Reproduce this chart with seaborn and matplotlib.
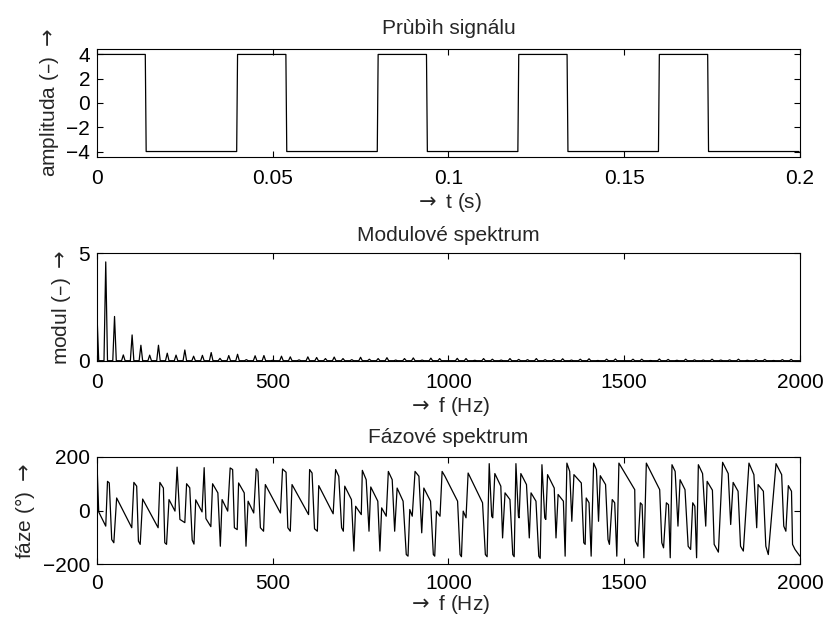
import numpy as np
import pandas as pd
import seaborn as sns
import matplotlib.pyplot as plt

# ---- data ----
# square wave: vertices of the sampled signal (fs = 4 kHz)
signal_t = [0, 0.01375, 0.014, 0.03975, 0.04, 0.05375, 0.054, 0.07975, 0.08, 0.09375,
            0.094, 0.11975, 0.12, 0.13375, 0.134, 0.15975, 0.16, 0.17375, 0.174, 0.19975]
signal_a = [4, 4, -4, -4, 4, 4, -4, -4, 4, 4,
            -4, -4, 4, 4, -4, -4, 4, 4, -4, -4]

# modulus spectrum: DC value and peaks at the 25 Hz harmonics
mod_dc = 2.2
harm_freq = np.arange(25, 2001, 25)
mod_peaks = [4.6, 2.06, 0.27, 1.2, 0.72, 0.26, 0.72, 0.35, 0.26, 0.5,
             0.21, 0.25, 0.38, 0.11, 0.24, 0.3, 0.05, 0.23, 0.24, 0.02,
             0.21, 0.18, 0.04, 0.18, 0.15, 0.1, 0.17, 0.1, 0.05, 0.16,
             0.07, 0.1, 0.14, 0.03, 0.1, 0.13, 0.03, 0.12, 0.1, 0.0,
             0.11, 0.1, 0.02, 0.1, 0.07, 0.03, 0.1, 0.06, 0.05, 0.1,
             0.05, 0.06, 0.09, 0.03, 0.07, 0.09, 0.01, 0.07, 0.08, 0.0,
             0.07, 0.07, 0.01, 0.08, 0.06, 0.02, 0.07, 0.04, 0.03, 0.07,
             0.03, 0.04, 0.07, 0.02, 0.05, 0.06, 0.01, 0.05, 0.06, 0.0]

# phase spectrum: polyline vertices
phase_f = [0, 5, 25, 30, 35, 42, 48, 56, 99, 105,
           113, 118, 123, 130, 174, 179, 189, 193, 198, 205,
           222, 228, 236, 250, 255, 264, 271, 276, 281, 299,
           305, 310, 324, 329, 344, 351, 356, 372, 379, 386,
           391, 399, 403, 419, 424, 430, 446, 453, 458, 465,
           474, 479, 522, 528, 538, 543, 550, 555, 602, 605,
           612, 619, 627, 631, 672, 679, 688, 696, 701, 705,
           724, 731, 736, 752, 755, 766, 774, 779, 799, 805,
           810, 823, 829, 840, 847, 854, 871, 880, 885, 890,
           897, 905, 916, 924, 930, 949, 957, 961, 966, 976,
           982, 990, 1026, 1033, 1037, 1042, 1050, 1056, 1097, 1105,
           1110, 1116, 1123, 1126, 1132, 1149, 1154, 1161, 1175, 1183,
           1187, 1192, 1199, 1201, 1206, 1222, 1230, 1235, 1249, 1257,
           1261, 1266, 1274, 1277, 1282, 1301, 1306, 1312, 1327, 1332,
           1337, 1345, 1351, 1357, 1378, 1385, 1389, 1392, 1400, 1406,
           1413, 1421, 1427, 1432, 1447, 1454, 1458, 1466, 1473, 1479,
           1485, 1530, 1532, 1539, 1546, 1551, 1556, 1563, 1601, 1607,
           1612, 1620, 1626, 1631, 1636, 1645, 1653, 1659, 1673, 1682,
           1689, 1695, 1701, 1706, 1711, 1723, 1732, 1736, 1751, 1756,
           1768, 1780, 1796, 1803, 1810, 1824, 1831, 1839, 1855, 1869,
           1877, 1881, 1896, 1903, 1910, 1932, 1948, 1954, 1960, 1967,
           1976, 1979, 1986, 2000]
phase_deg = [180, -5, -58, 109, 103, -108, -120, 47, -64, 105,
             91, -114, -126, 43, -64, 105, 84, -120, -126, 41,
             -2, 162, -33, -45, 100, 85, -110, -125, 40, -5,
             160, -30, -60, 100, 66, -133, 41, -2, 159, 153,
             -64, -71, 103, 66, -133, 35, -9, 156, 146, -64,
             -77, 97, -9, 155, 143, -64, -77, 97, -15, 153,
             140, -68, -77, 93, -12, 153, 128, -64, -77, 91,
             41, -151, 16, -15, 150, 115, -77, 88, 35, -151,
             10, -21, 146, 115, -77, 84, 35, -164, -170, 4,
             -21, 146, 128, -83, 84, 35, -164, -170, -2, -21,
             146, 128, 35, -164, -172, -2, -27, 140, 29, -164,
             -172, 175, -21, -27, 138, 91, -102, 66, 41, -164,
             -172, 175, -21, -27, 138, 97, -102, 66, 35, -170,
             -178, 171, -27, -33, 134, 84, -102, 60, 35, -170,
             177, 146, -40, 134, 103, -120, -126, 47, 29, -170,
             177, 153, -40, 130, 97, -108, -126, 41, 29, -170,
             177, 78, -114, -133, 29, 22, -176, 177, 78, -120,
             -139, 29, 22, -176, 171, 146, -58, 115, 78, -133,
             -145, 29, 16, -176, 171, 138, -58, 109, 76, -126,
             -155, 180, 138, -52, 105, 72, -133, -151, 177, 134,
             -64, 97, 72, -133, -164, 175, 134, -58, -77, 93,
             72, -126, -145, -170]

# modulus line: every harmonic is a narrow triangle (zero bins at +-5 Hz)
mod_f = [0, 5]
mod_v = [mod_dc, 0]
for f, v in zip(harm_freq, mod_peaks):
    mod_f += [f - 5, f, f + 5]
    mod_v += [0, v, 0]

df_sig = pd.DataFrame({'t': signal_t, 'a': signal_a})
df_mod = pd.DataFrame({'f': mod_f, 'm': mod_v})
df_ph = pd.DataFrame({'f': phase_f, 'p': phase_deg})

# ---- style ----
sns.set_style('ticks')
plt.rcParams['font.family'] = ['Liberation Sans', 'DejaVu Sans']
plt.rcParams['mathtext.fontset'] = 'dejavusans'
plt.rcParams['axes.linewidth'] = 0.8
FS = 15
ARROW = r'$\rightarrow$'

fig = plt.figure(figsize=(8.28, 6.2), dpi=100)
ax1 = fig.add_axes([0.1171, 0.7468, 0.849, 0.1742])
ax2 = fig.add_axes([0.1171, 0.4182, 0.849, 0.1732])
ax3 = fig.add_axes([0.1171, 0.0900, 0.849, 0.1730])

kw = dict(color='black', linewidth=0.9, sort=False, estimator=None)
sns.lineplot(data=df_sig, x='t', y='a', ax=ax1, **kw)
sns.lineplot(data=df_mod, x='f', y='m', ax=ax2, **kw)
sns.lineplot(data=df_ph, x='f', y='p', ax=ax3, **kw)

ax1.set_xlim(0, 0.2)
ax1.set_ylim(-4.45, 4.45)
ax1.set_xticks([0, 0.05, 0.1, 0.15, 0.2])
ax1.set_xticklabels(['0', '0.05', '0.1', '0.15', '0.2'])
ax1.set_yticks([-4, -2, 0, 2, 4])
ax1.set_yticklabels(['\u22124', '\u22122', '0', '2', '4'])
ax1.set_title('Prùbìh signálu', fontsize=FS, pad=11)
ax1.set_xlabel(ARROW + ' t (s)', fontsize=FS, labelpad=2)
ax1.set_ylabel('amplituda (\u2013) ' + ARROW, fontsize=FS)

ax2.set_xlim(0, 2000)
ax2.set_ylim(0, 5)
ax2.set_xticks([0, 500, 1000, 1500, 2000])
ax2.set_yticks([0, 5])
ax2.set_title('Modulové spektrum', fontsize=FS, pad=9)
ax2.set_xlabel(ARROW + ' f (Hz)', fontsize=FS, labelpad=2)
ax2.set_ylabel('modul (\u2013) ' + ARROW, fontsize=FS)

ax3.set_xlim(0, 2000)
ax3.set_ylim(-200, 200)
ax3.set_xticks([0, 500, 1000, 1500, 2000])
ax3.set_yticks([-200, 0, 200])
ax3.set_yticklabels(['\u2212200', '0', '200'])
ax3.set_title('Fázové spektrum', fontsize=FS, pad=10)
ax3.set_xlabel(ARROW + ' f (Hz)', fontsize=FS, labelpad=0)
ax3.set_ylabel('fáze (°) ' + ARROW, fontsize=FS)

for ax in (ax1, ax2, ax3):
    ax.tick_params(direction='in', top=True, right=True, length=4, width=0.8,
                   labelsize=FS, colors='black')
    ax.tick_params(axis='x', pad=9)
    ax.tick_params(axis='y', pad=5)
    for s in ax.spines.values():
        s.set_visible(True)
        s.set_color('black')
ax3.tick_params(axis='x', pad=7)

fig.savefig('out.png', dpi=100)
